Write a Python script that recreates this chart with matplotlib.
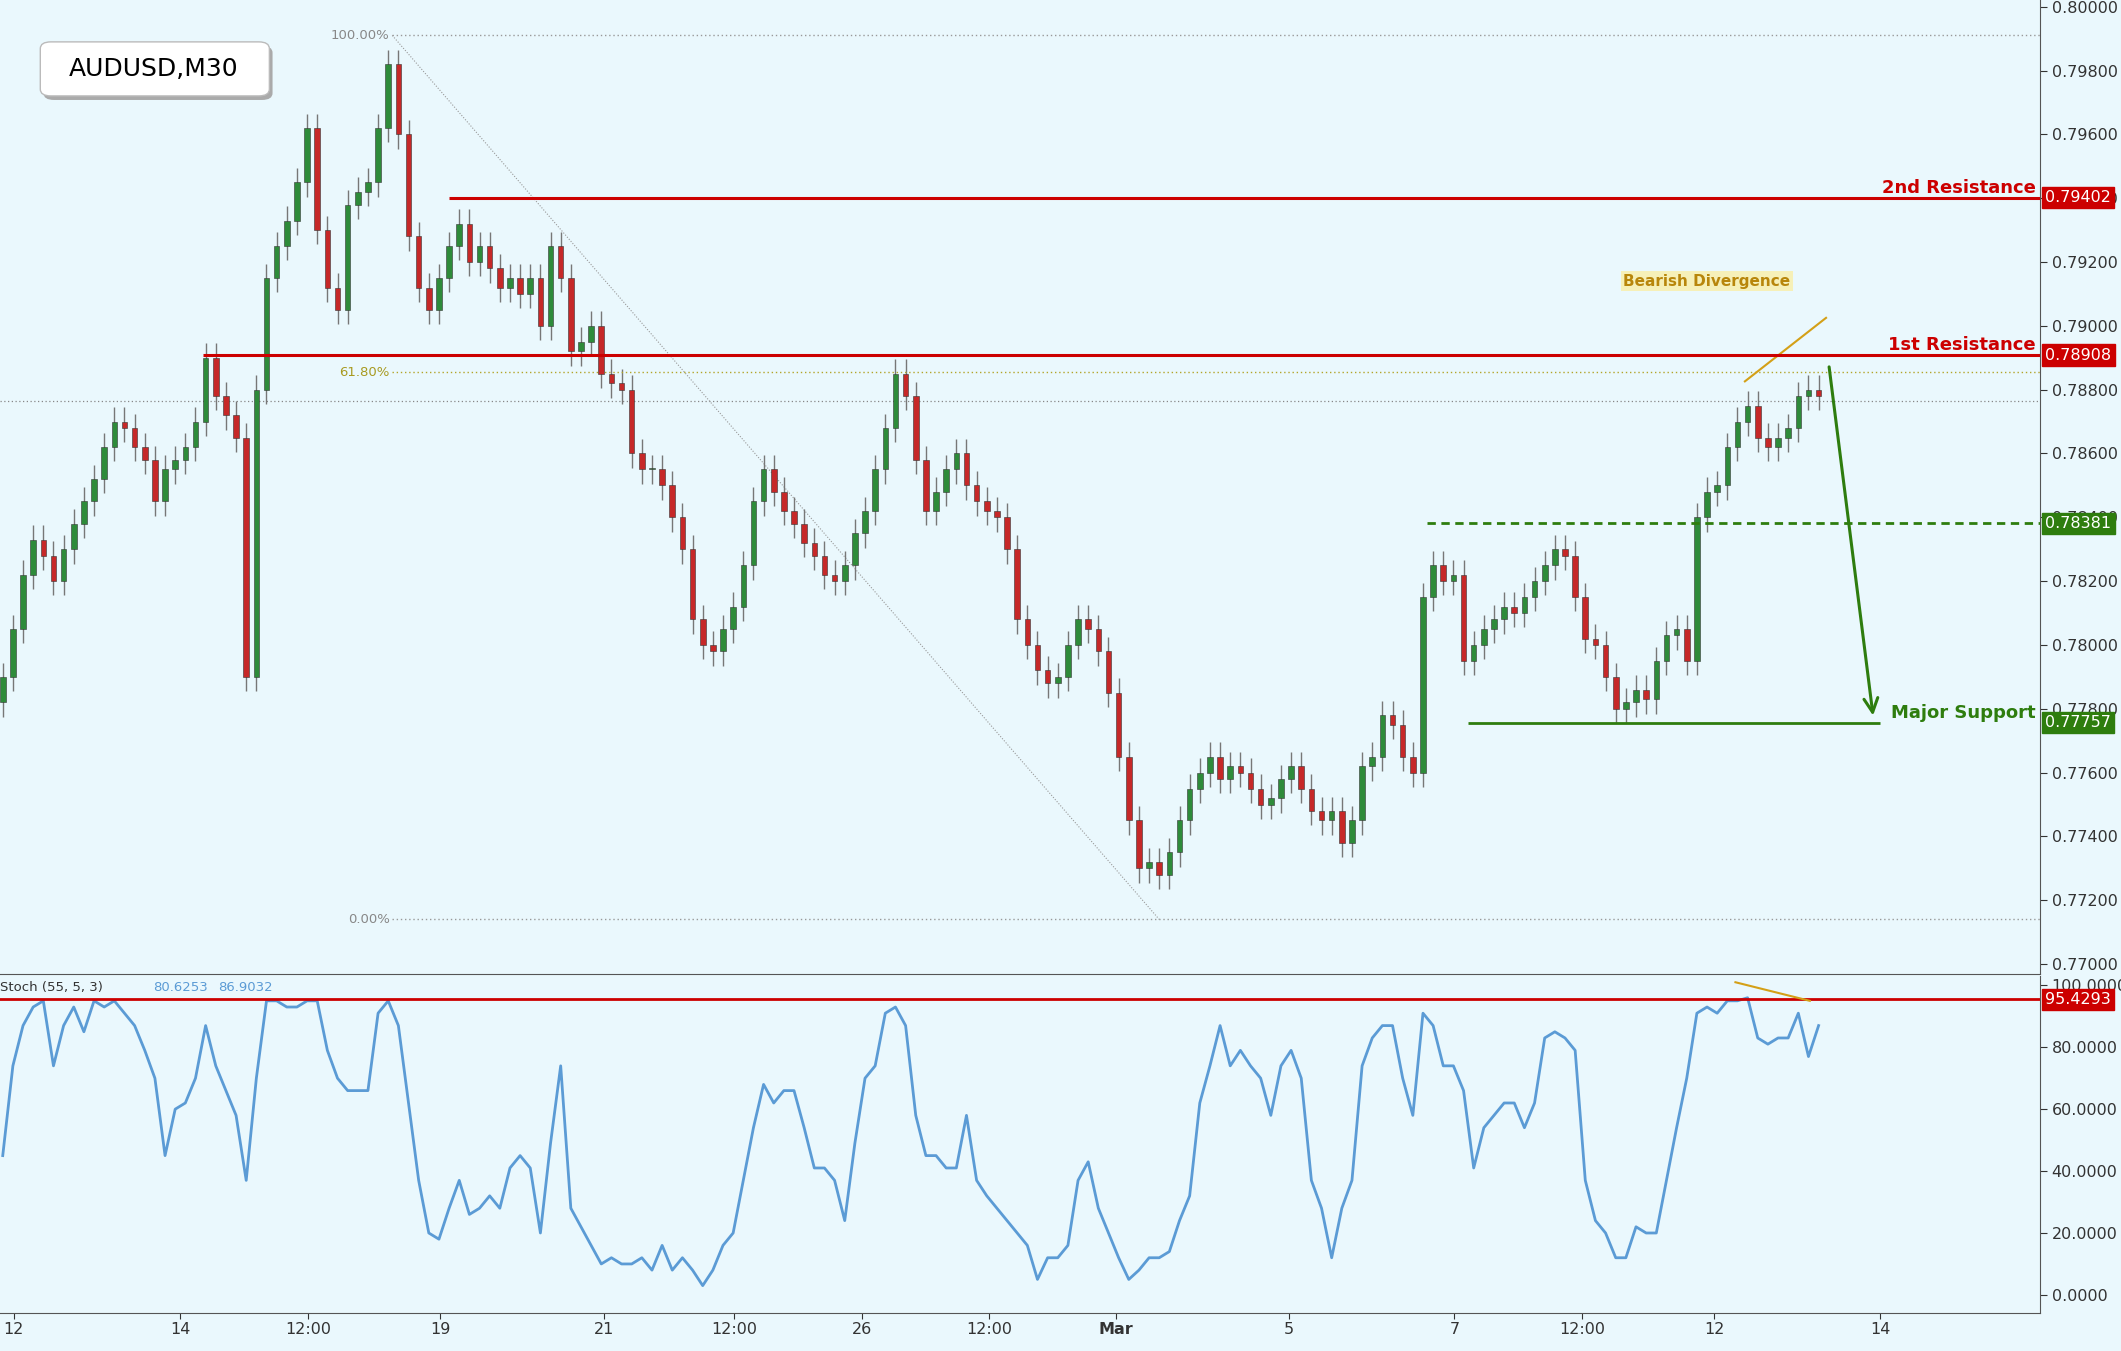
import numpy as np
import matplotlib.pyplot as plt
from matplotlib.patches import FancyBboxPatch

# ---- data ----
closes = [
    .7790, .7805, .7822, .7833, .7828, .7820, .7830, .7838, .7845, .7852,
    .7862, .7870, .7868, .7862, .7858, .7845, .7855, .7858, .7862, .7870,
    .7890, .7878, .7872, .7865, .7790, .7880, .7915, .7925, .7933, .7945,
    .7962, .7930, .7912, .7905, .7938, .7942, .7945, .7962, .7982, .7960,
    .7928, .7912, .7905, .7915, .7925, .7932, .7920, .7925, .7918, .7912,
    .7915, .7910, .7915, .7900, .7925, .7915, .7892, .7895, .7900, .7885,
    .7882, .7880, .7860, .7855, .7855, .7850, .7840, .7830, .7808, .7800,
    .7798, .7805, .7812, .7825, .7845, .7855, .7848, .7842, .7838, .7832,
    .7828, .7822, .7820, .7825, .7835, .7842, .7855, .7868, .7885, .7878,
    .7858, .7842, .7848, .7855, .7860, .7850, .7845, .7842, .7840, .7830,
    .7808, .7800, .7792, .7788, .7790, .7800, .7808, .7805, .7798, .7785,
    .7765, .7745, .7730, .7732, .7728, .7735, .7745, .7755, .7760, .7765,
    .7758, .7762, .7760, .7755, .7750, .7752, .7758, .7762, .7755, .7748,
    .7745, .7748, .7738, .7745, .7762, .7765, .7778, .7775, .7765, .7760,
    .7815, .7825, .7820, .7822, .7795, .7800, .7805, .7808, .7812, .7810,
    .7815, .7820, .7825, .7830, .7828, .7815, .7802, .7800, .7790, .7780,
    .7782, .7786, .7783, .7795, .7803, .7805, .7795, .7840, .7848, .7850,
    .7862, .7870, .7875, .7865, .7862, .7865, .7868, .7878, .7880, .7878,
]
open0 = .7782

stoch = [
    45, 74, 87, 93, 95, 74, 87, 93, 85, 95, 93, 95, 91, 87, 79, 70, 45, 60, 62, 70,
    87, 74, 66, 58, 37, 70, 95, 95, 93, 93, 95, 95, 79, 70, 66, 66, 66, 91, 95, 87,
    62, 37, 20, 18, 28, 37, 26, 28, 32, 28, 41, 45, 41, 20, 49, 74, 28, 22, 16, 10,
    12, 10, 10, 12, 8, 16, 8, 12, 8, 3, 8, 16, 20, 37, 54, 68, 62, 66, 66, 54,
    41, 41, 37, 24, 49, 70, 74, 91, 93, 87, 58, 45, 45, 41, 41, 58, 37, 32, 28, 24,
    20, 16, 5, 12, 12, 16, 37, 43, 28, 20, 12, 5, 8, 12, 12, 14, 24, 32, 62, 74,
    87, 74, 79, 74, 70, 58, 74, 79, 70, 37, 28, 12, 28, 37, 74, 83, 87, 87, 70, 58,
    91, 87, 74, 74, 66, 41, 54, 58, 62, 62, 54, 62, 83, 85, 83, 79, 37, 24, 20, 12,
    12, 22, 20, 20, 37, 54, 70, 91, 93, 91, 95, 95, 96, 83, 81, 83, 83, 91, 77, 87,
]

x_ticks = [1.1, 17.5, 30.1, 43.1, 59.3, 72.1, 84.7, 97.2, 109.7, 126.8, 143.1, 155.7, 168.7, 185.1]
x_labels = ['12', '14', '12:00', '19', '21', '12:00', '26', '12:00', 'Mar', '5', '7', '12:00', '12', '14']

res2, res1, sup_dash, major_sup = 0.79402, 0.78908, 0.78381, 0.77757
fib100, fib618, fib0 = 0.79910, 0.78854, 0.77140
last_price = 0.78765
stoch_level = 95.4293

BG = '#EAF8FD'
RED = '#CC0000'
GREEN = '#2E7D0E'
BLUE = '#5B9BD5'

fig = plt.figure(figsize=(21.21, 13.51), dpi=100, facecolor=BG)
ax = fig.add_axes([0, 0.2793, 0.9617, 0.7207], facecolor=BG)
ax2 = fig.add_axes([0, 0.028, 0.9617, 0.2493], facecolor=BG)

px = lambda p: (p - 2) / 7.5  # pixel position -> bar index

# candles
opens = [open0] + closes[:-1]
wick = 0.00045
for i, (o, c) in enumerate(zip(opens, closes)):
    col = '#2E8B3A' if c >= o else '#C62828'
    ax.vlines(i, min(o, c) - wick, max(o, c) + wick, color='#777777', lw=1, zorder=2)
    ax.bar(i, abs(c - o) or 0.00003, bottom=min(o, c), width=0.55, color=col,
           edgecolor='#333333', linewidth=0.4, zorder=3)

xr = 200.8
ax.set_xlim(-0.27, xr)
ax.set_ylim(0.76970, 0.80021)

# levels
ax.hlines(res2, px(332), xr, color=RED, lw=2.2, zorder=4)
ax.hlines(res1, px(150), xr, color=RED, lw=2.2, zorder=4)
ax.hlines(sup_dash, px(1055), xr, color=GREEN, lw=2, ls=(0, (3, 2)), zorder=4)
ax.hlines(major_sup, px(1085), px(1390), color=GREEN, lw=2, zorder=4)
ax.axhline(last_price, color='#888888', lw=0.9, ls=(0, (1, 2)), zorder=1)

# fib
ax.plot([px(290), px(857)], [fib100, fib0], color='#999999', lw=0.8, ls=(0, (1, 1.5)), zorder=1)
ax.hlines(fib100, px(290), xr, color='#999999', lw=1, ls=(0, (1, 2)))
ax.hlines(fib0, px(290), xr, color='#999999', lw=1, ls=(0, (1, 2)))
ax.hlines(fib618, px(290), xr, color='#B3A52A', lw=1, ls=(0, (1, 2)))
ax.text(px(288), fib100, '100.00%', ha='right', va='center', fontsize=9.5, color='#888888')
ax.text(px(288), fib0, '0.00%', ha='right', va='center', fontsize=9.5, color='#888888')
ax.text(px(288), fib618, '61.80%', ha='right', va='center', fontsize=9.5, color='#A89A20')

# labels on levels
ax.text(px(1505), res2 + 0.00003, '2nd Resistance', ha='right', va='bottom', fontsize=13, color=RED, fontweight='bold')
ax.text(px(1505), res1 + 0.00003, '1st Resistance', ha='right', va='bottom', fontsize=13, color=RED, fontweight='bold')
ax.text(px(1505), major_sup + 0.00003, 'Major Support', ha='right', va='bottom', fontsize=13, color=GREEN, fontweight='bold')

# divergence + arrow
ax.plot([px(1290), px(1350)], [0.78826, 0.79025], color='#D4A017', lw=1.5)
ax.text(px(1262), 0.79140, 'Bearish Divergence', ha='center', va='center', fontsize=11,
        color='#B8860B', fontweight='bold', bbox=dict(boxstyle='square,pad=0.15', fc='#F6F0B8', ec='none'))
ax.annotate('', xy=(px(1385), 0.77770), xytext=(px(1352), 0.78880),
            arrowprops=dict(arrowstyle='->', color=GREEN, lw=2.2, mutation_scale=25))

# title box
tb = FancyBboxPatch((0.022, 0.932), 0.102, 0.034, boxstyle='round,pad=0.003,rounding_size=0.005',
                    transform=fig.transFigure, fc='white', ec='#BBBBBB', lw=1, zorder=10)
shadow = FancyBboxPatch((0.0235, 0.929), 0.102, 0.034, boxstyle='round,pad=0.003,rounding_size=0.005',
                        transform=fig.transFigure, fc='#AAAAAA', ec='none', zorder=9)
fig.patches.extend([shadow, tb])
fig.text(0.0725, 0.949, 'AUDUSD,M30', ha='center', va='center', fontsize=18, zorder=11)

# right axis
for a in (ax, ax2):
    a.yaxis.tick_right()
    a.tick_params(axis='y', direction='out', length=5, labelsize=11.5, colors='#333333')
    for s in ('left', 'top'):
        a.spines[s].set_visible(False)
    a.spines['right'].set_color('#555555')
    a.spines['bottom'].set_color('#555555')
ax.set_yticks(np.arange(0.7700, 0.80001, 0.002))
ax.set_yticklabels([f'{v:.5f}' for v in np.arange(0.7700, 0.80001, 0.002)])
ax.set_xticks([])

def tag(a, y, txt, col, fc):
    a.annotate(txt, xy=(1.0, y), xycoords=('axes fraction', 'data'), xytext=(4, 0),
               textcoords='offset points', va='center', ha='left', fontsize=11.5, color=col,
               bbox=dict(boxstyle='square,pad=0.2', fc=fc, ec=fc), annotation_clip=False, zorder=20)

tag(ax, res2, '0.79402', 'white', RED)
tag(ax, res1, '0.78908', 'white', RED)
tag(ax, sup_dash, '0.78381', 'white', GREEN)
tag(ax, major_sup, '0.77757', 'white', GREEN)

# stoch panel
ax2.plot(np.arange(len(stoch)), stoch, color=BLUE, lw=2)
ax2.axhline(stoch_level, color=RED, lw=2)
ax2.plot([px(1283), px(1338)], [101, 95], color='#D4A017', lw=1.5)
ax2.set_xlim(-0.27, xr)
ax2.set_ylim(-5.9, 102.9)
ax2.set_yticks(np.arange(0, 101, 20))
ax2.set_yticklabels([f'{v:.4f}' for v in np.arange(0, 101, 20)])
tag(ax2, stoch_level, '95.4293', 'white', RED)
ax2.set_xticks(x_ticks)
ax2.set_xticklabels(x_labels)
ax2.tick_params(axis='x', direction='out', length=4, labelsize=11.5, colors='#333333', pad=2)
for lbl in ax2.get_xticklabels():
    if lbl.get_text() == 'Mar':
        lbl.set_fontweight('bold')
ax2.text(0.0, 0.985, 'Stoch (55, 5, 3)', transform=ax2.transAxes, fontsize=9.5, va='top', color='#333333')
ax2.text(0.075, 0.985, '80.6253', transform=ax2.transAxes, fontsize=9.5, va='top', color=BLUE)
ax2.text(0.107, 0.985, '86.9032', transform=ax2.transAxes, fontsize=9.5, va='top', color=BLUE)

fig.savefig('out.png', dpi=100, facecolor=BG)
